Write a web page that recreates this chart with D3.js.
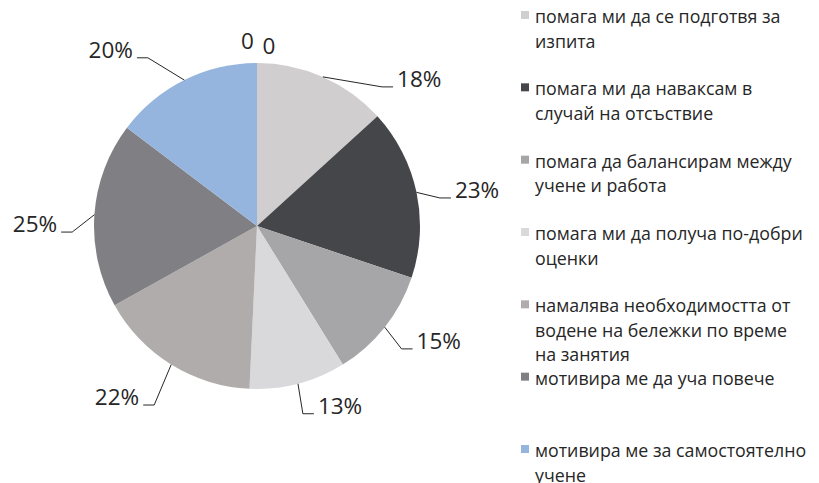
<!DOCTYPE html>
<html><head><meta charset="utf-8">
<script src="https://cdn.jsdelivr.net/npm/d3@7"></script>
<style>body{margin:0;background:#fff}svg{display:block}</style>
</head><body>
<svg id="c" width="819" height="483"></svg>
<script>
const categories = [
  "помага ми да се подготвя за изпита",
  "помага ми да наваксам в случай на отсъствие",
  "помага да балансирам между учене и работа",
  "помага ми да получа по-добри оценки",
  "намалява необходимостта от водене на бележки по време на занятия",
  "мотивира ме да уча повече",
  "мотивира ме за самостоятелно учене"
];
const values = [18, 23, 15, 13, 22, 25, 20, 0, 0];
const valueLabels = ["18%", "23%", "15%", "13%", "22%", "25%", "20%", "0", "0"];
const colors = ["#d0cece", "#454649", "#a6a6a9", "#d9d9db", "#b0acab", "#808084", "#95b5df", "#d0cece", "#454649"];
// layout of data labels: angle (deg, clockwise from top) and distance of the label centre
const labelAngle = [47.8, 80.7, 122.3, 155.2, 219.3, 270.5, 320.3, 357, 3.8];
const labelRadius = [219, 223, 215, 198, 221, 222, 229, 185, 180];

const svg = d3.select("#c");
const cx = 257, cy = 226, r = 163;
const g = svg.append("g").attr("transform", `translate(${cx},${cy})`);
const pie = d3.pie().sort(null).value(d => d)(values);
const arc = d3.arc().innerRadius(0).outerRadius(r);
g.selectAll("path.s").data(pie).join("path").attr("class", "s")
  .attr("d", arc).attr("fill", (d, i) => colors[i]);

const font = "'Open Sans', sans-serif";
pie.forEach((d, i) => {
  const a = labelAngle[i] * Math.PI / 180;
  const lx = labelRadius[i] * Math.sin(a), ly = -labelRadius[i] * Math.cos(a);
  const t = g.append("text").attr("x", lx).attr("y", ly + 8)
    .attr("text-anchor", "middle").attr("font-family", font).attr("font-size", 22.5)
    .attr("fill", "#262626").text(valueLabels[i]);
  if (values[i] > 0) {
    const bb = t.node().getBBox();
    const mid = (d.startAngle + d.endAngle) / 2;
    const sx = r * Math.sin(mid), sy = -r * Math.cos(mid);
    const by = ly + 8;
    let pts;
    if (lx > 0) pts = [[sx, sy], [bb.x - 15, by], [bb.x - 4, by]];
    else pts = [[sx, sy], [bb.x + bb.width + 15, by], [bb.x + bb.width + 4, by]];
    g.append("path").attr("d", d3.line()(pts)).attr("fill", "none")
      .attr("stroke", "#262626").attr("stroke-width", 1);
  }
});

// legend (wrap at 28 characters per line)
const ly0 = d3.scaleLinear().domain([0, categories.length - 1]).range([15, 449]);
const maxChars = 28, lh = 24.5;
categories.forEach((c, i) => {
  const yc = ly0(i);
  svg.append("rect").attr("x", 521).attr("y", yc - 4).attr("width", 8).attr("height", 8)
    .attr("fill", colors[i]);
  const t = svg.append("text").attr("font-family", font).attr("font-size", 17.8).attr("fill", "#262626");
  const lines = [];
  let cur = "";
  c.split(" ").forEach(w => {
    const cand = cur ? cur + " " + w : w;
    if (cand.length > maxChars && cur) { lines.push(cur); cur = w; } else cur = cand;
  });
  if (cur) lines.push(cur);
  lines.forEach((l, k) => {
    t.append("tspan").attr("x", 535).attr("y", yc + 8 + k * lh).text(l);
  });
});
</script>
</body></html>
